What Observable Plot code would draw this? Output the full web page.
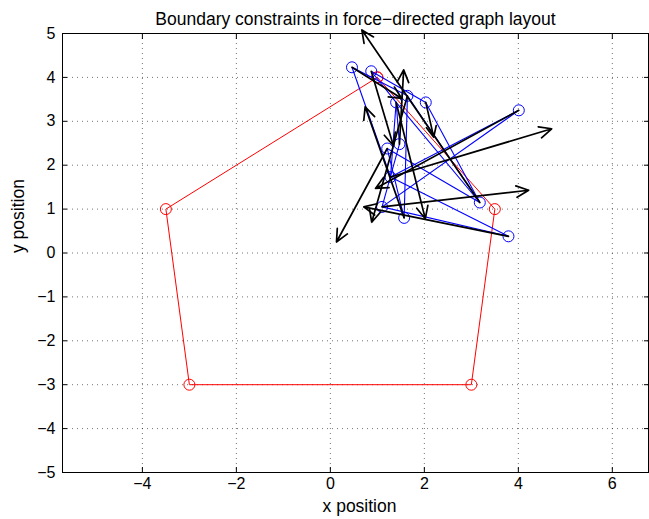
<!DOCTYPE html>
<html><head><meta charset="utf-8">
<script src="https://cdn.jsdelivr.net/npm/d3@7"></script>
<script src="https://cdn.jsdelivr.net/npm/@observablehq/plot@0.6"></script>
<style>
body{margin:0;background:#fff;}
#chart svg{display:block;}
</style>
</head><body><div id="chart"></div>
<script>
// Boundary polygon (red), closed
const boundaryX = [1, 3.5, 3, -3, -3.5, 1];
const boundaryY = [4, 1, -3, -3, 1, 4];
// Graph nodes (blue)
const nodeX = [0.46, 0.87, 1.64, 1.40, 2.03, 4.01, 1.47, 1.21, 1.28, 3.18, 1.10, 1.57, 3.79];
const nodeY = [4.23, 4.14, 3.58, 3.43, 3.43, 3.25, 2.48, 2.38, 1.73, 1.15, 1.05, 0.80, 0.38];
// Graph edges (node indices)
const edgeFrom = [0, 0, 1, 1, 2, 3, 4, 2, 3, 5, 5, 8, 10, 7, 6, 7, 3];
const edgeTo   = [2, 8, 4, 3, 9, 9, 9, 11, 8, 8, 10, 12, 12, 9, 10, 11, 6];
// Force arrow tips (one per node)
const forceX = [1.52, 1.34, 0.88, 2.02, 2.20, 0.96, 1.56, 0.13, 4.71, 0.67, 4.22, 0.74, 0.71];
const forceY = [3.52, 2.45, 0.70, 0.78, 2.64, 1.47, 4.17, 0.25, 2.83, 5.08, 1.43, 3.33, 1.05];
// Ticks
const xTicks = [-4, -2, 0, 2, 4, 6];
const yTicks = [-5, -4, -3, -2, -1, 0, 1, 2, 3, 4, 5];
const titleText = "Boundary constraints in force\u2212directed graph layout";
const xLabel = "x position";
const yLabel = "y position";

const boundary = boundaryX.map((x, i) => ({x, y: boundaryY[i]}));
const nodes = nodeX.map((x, i) => ({x, y: nodeY[i]}));
const edges = edgeFrom.map((a, i) => ({x1: nodeX[a], y1: nodeY[a], x2: nodeX[edgeTo[i]], y2: nodeY[edgeTo[i]]}));
const forces = nodeX.map((x, i) => ({x1: x, y1: nodeY[i], x2: forceX[i], y2: forceY[i]}));

const font = "'Liberation Sans', Arial, Helvetica, sans-serif";
const grid = {stroke: "#000", strokeOpacity: 0.55, strokeDasharray: "1,4", strokeWidth: 1};

const chart = Plot.plot({
  width: 649, height: 519,
  marginLeft: 62, marginRight: 1, marginTop: 33, marginBottom: 47,
  style: {fontFamily: font, fontSize: "16px", background: "white", color: "black", overflow: "visible"},
  x: {domain: [-5.7, 6.77]},
  y: {domain: [-5, 5]},
  marks: [
    Plot.gridX(xTicks, grid),
    Plot.gridY(yTicks, grid),
    Plot.axisX(xTicks, {anchor: "bottom", tickSize: -5, tickPadding: 10, label: null, fontSize: 16}),
    Plot.axisX(xTicks, {anchor: "top", tickSize: -5, tickFormat: () => "", label: null}),
    Plot.axisY(yTicks, {anchor: "left", tickSize: -5, tickPadding: 12, label: null, fontSize: 16}),
    Plot.axisY(yTicks, {anchor: "right", tickSize: -5, tickFormat: () => "", label: null}),
    Plot.frame({stroke: "black", strokeWidth: 1}),
    Plot.line(boundary, {x: "x", y: "y", stroke: "#ff0000", strokeWidth: 1}),
    Plot.dot(boundary, {x: "x", y: "y", r: 5.5, stroke: "#ff0000", strokeWidth: 1, fill: "none"}),
    Plot.link(edges, {x1: "x1", y1: "y1", x2: "x2", y2: "y2", stroke: "#0000ff", strokeWidth: 1.1}),
    Plot.dot(nodes, {x: "x", y: "y", r: 5.5, stroke: "#0000ff", strokeWidth: 1, fill: "none"}),
    Plot.arrow(forces, {x1: "x1", y1: "y1", x2: "x2", y2: "y2", stroke: "black", strokeWidth: 1.7, headLength: 12, headAngle: 50}),
    Plot.text([titleText], {text: d => d, frameAnchor: "top", dy: -21, fontSize: 17.5}),
    Plot.text([xLabel], {text: d => d, frameAnchor: "bottom", dx: 4, dy: 39, fontSize: 17.5}),
    Plot.text([yLabel], {text: d => d, frameAnchor: "left", dx: -44, rotate: -90, fontSize: 17.5})
  ]
});
document.getElementById("chart").appendChild(chart);
</script>
</body></html>
